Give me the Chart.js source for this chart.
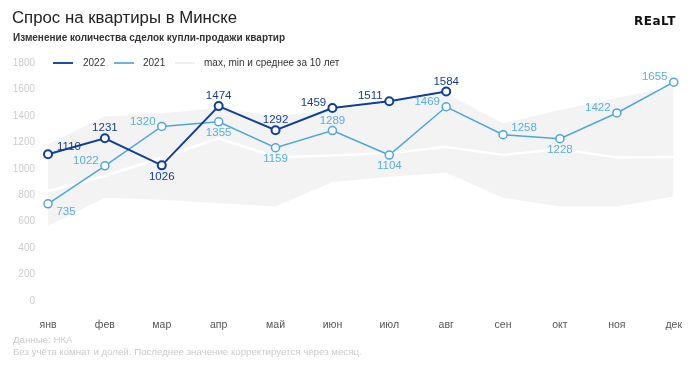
<!DOCTYPE html>
<html>
<head>
<meta charset="utf-8">
<script src="https://cdn.jsdelivr.net/npm/chart.js@4"></script>
<style>
  body { margin: 0; background: #fff; font-family: "Liberation Sans", Arial, sans-serif; }
  #wrap { position: relative; width: 700px; height: 370px; overflow: hidden; }
  #chart { position: absolute; left: 0; top: 0; }
  .txt { position: absolute; white-space: nowrap; }
  #title { left: 12px; top: 8px; font-size: 16.8px; color: #222; }
  #subtitle { left: 13px; top: 32px; font-size: 10px; font-weight: bold; color: #333; }
  #logo { left: 634px; top: 14px; font-family: "DejaVu Sans", sans-serif; font-weight: bold; font-size: 12px; color: #111; letter-spacing: 0.5px; }
  .lg-line { position: absolute; height: 2px; width: 20px; top: 62px; }
  .lg-txt { position: absolute; top: 57px; font-size: 10px; color: #333; }
  .foot { position: absolute; left: 13px; font-size: 9.7px; color: #cccccc; }
</style>
</head>
<body>
<div id="wrap">
  <canvas id="chart" width="700" height="370"></canvas>
  <div class="txt" id="title">Спрос на квартиры в Минске</div>
  <div class="txt" id="subtitle">Изменение количества сделок купли-продажи квартир</div>
  <div class="txt" id="logo">REaLT</div>
  <div class="lg-line" style="left:53px;background:#1f4fa0"></div>
  <div class="lg-txt" style="left:83px">2022</div>
  <div class="lg-line" style="left:114px;background:#6ab4e6"></div>
  <div class="lg-txt" style="left:143px">2021</div>
  <div class="lg-line" style="left:175px;background:#efefef"></div>
  <div class="lg-txt" style="left:204px">max, min и среднее за 10 лет</div>
  <div class="foot" style="top:334px">Данные: НКА</div>
  <div class="foot" style="top:346px">Без учёта комнат и долей. Последнее значение корректируется через месяц.</div>
</div>
<script>
// данные
const months = ['янв', 'фев', 'мар', 'апр', 'май', 'июн', 'июл', 'авг', 'сен', 'окт', 'ноя', 'дек'];
const y2022 = [1110, 1231, 1026, 1474, 1292, 1459, 1511, 1584, null, null, null, null];
const y2021 = [735, 1022, 1320, 1355, 1159, 1289, 1104, 1469, 1258, 1228, 1422, 1655];
const max10 = [1185, 1395, 1420, 1460, 1400, 1440, 1500, 1570, 1345, 1445, 1535, 1620];
const min10 = [570, 780, 765, 740, 715, 900, 940, 970, 780, 715, 715, 790];
const avg10 = [830, 945, 1085, 1230, 1090, 1100, 1120, 1165, 1105, 1150, 1085, 1090];
const yTicks = [0, 200, 400, 600, 800, 1000, 1200, 1400, 1600, 1800];

// где рисовать подписи значений
const pos2022 = ['r', 'a', 'b', 'a', 'a', 'l', 'l', 'a'];
const pos2021 = ['br', 'l', 'l', 'b', 'b', 'a', 'b', 'l', 'r', 'b', 'l', 'l'];
const shift = { a: [0, -10], b: [0, 11], l: [-19, -5], r: [21, -7], br: [18, 8] };

const valueLabels = {
  id: 'valueLabels',
  afterDatasetsDraw(chart) {
    const ctx = chart.ctx;
    ctx.save();
    ctx.font = '11.5px "Liberation Sans", Arial, sans-serif';
    ctx.textAlign = 'center';
    ctx.textBaseline = 'middle';
    [[3, pos2021, '#5aaee3'], [4, pos2022, '#163f8f']].forEach(([idx, pos, color]) => {
      const meta = chart.getDatasetMeta(idx);
      const vals = chart.data.datasets[idx].data;
      ctx.fillStyle = color;
      meta.data.forEach((pt, i) => {
        if (vals[i] == null) return;
        const s = shift[pos[i]];
        ctx.fillText(String(vals[i]), pt.x + s[0], pt.y + s[1]);
      });
    });
    ctx.restore();
  }
};

new Chart(document.getElementById('chart').getContext('2d'), {
  type: 'line',
  data: {
    labels: months,
    datasets: [
      { data: max10, order: 10, borderWidth: 0, pointRadius: 0, fill: '+1', backgroundColor: '#f3f3f3', tension: 0 },
      { data: min10, order: 9, borderWidth: 0, pointRadius: 0, fill: false, tension: 0 },
      { data: avg10, order: 5, borderColor: '#ffffff', borderWidth: 2.5, pointRadius: 0, fill: false, tension: 0 },
      { data: y2021, order: 2, clip: false, borderColor: '#4ea5e0', borderWidth: 1.5, pointRadius: 4, pointBorderWidth: 1.5,
        pointBackgroundColor: '#fff', pointBorderColor: '#4ea5e0', fill: false, tension: 0 },
      { data: y2022, order: 1, clip: false, borderColor: '#0f3f99', borderWidth: 2, pointRadius: 4, pointBorderWidth: 2,
        pointBackgroundColor: '#fff', pointBorderColor: '#0f3f99', fill: false, tension: 0, spanGaps: false }
    ]
  },
  options: {
    responsive: false,
    animation: false,
    layout: { padding: { top: 63, right: 21, left: 0, bottom: 0 } },
    plugins: { legend: { display: false }, tooltip: { enabled: false } },
    scales: {
      x: {
        offset: false,
        grid: { display: false, drawTicks: false },
        border: { display: false },
        ticks: { color: '#555', font: { size: 10.5, family: '"Liberation Sans", Arial, sans-serif' }, padding: 18, maxRotation: 0 },
        afterFit: (s) => { s.height = 69; }
      },
      y: {
        min: 0, max: 1800,
        grid: { display: false, drawTicks: false },
        border: { display: false },
        afterBuildTicks: (s) => { s.ticks = yTicks.map(v => ({ value: v })); },
        ticks: { color: '#cccccc', font: { size: 10, family: '"Liberation Sans", Arial, sans-serif' }, padding: 13,
          callback: (v) => String(v) },
        afterFit: (s) => { s.width = 48; }
      }
    }
  },
  plugins: [valueLabels]
});
</script>
</body>
</html>
